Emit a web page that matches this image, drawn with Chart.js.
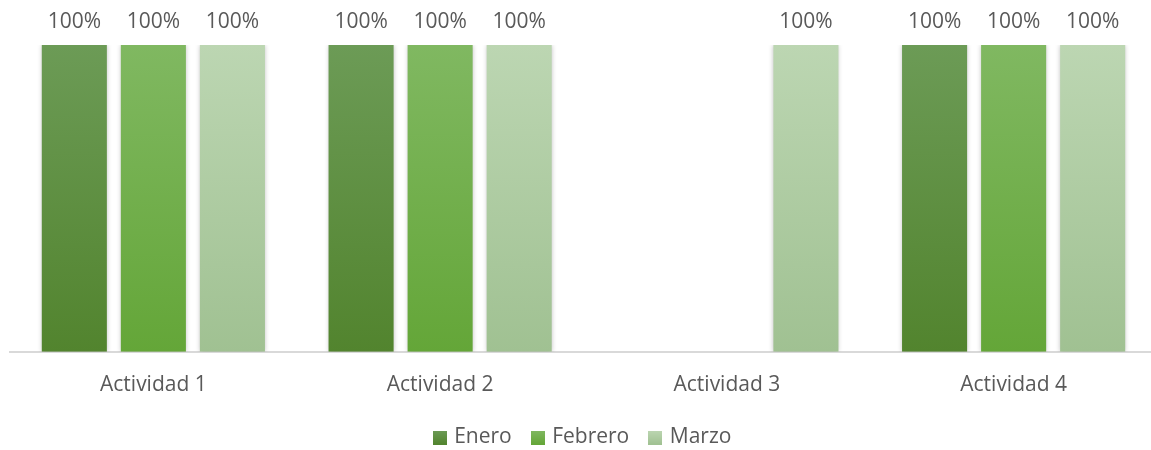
<!DOCTYPE html>
<html>
<head>
<meta charset="utf-8">
<script src="https://cdn.jsdelivr.net/npm/chart.js@4/dist/chart.umd.min.js"></script>
<style>
html,body{margin:0;padding:0;background:#fff;overflow:hidden;}
#wrap{width:1160px;height:450px;position:relative;}
</style>
</head>
<body>
<div id="wrap"><canvas id="c"></canvas></div>
<script>
const categories = ["Actividad 1", "Actividad 2", "Actividad 3", "Actividad 4"];
const seriesNames = ["Enero", "Febrero", "Marzo"];
const enero = [1, 1, null, 1];
const febrero = [1, 1, null, 1];
const marzo = [1, 1, 1, 1];

const gradStops = [
  ["rgb(108,155,86)", "rgb(82,132,46)"],
  ["rgb(128,184,97)", "rgb(100,166,56)"],
  ["rgb(188,214,178)", "rgb(160,193,146)"]
];

function gradFill(idx) {
  return function(ctx) {
    const chart = ctx.chart;
    const a = chart.chartArea;
    if (!a) return gradStops[idx][1];
    const g = chart.ctx.createLinearGradient(0, a.top, 0, a.bottom);
    g.addColorStop(0, gradStops[idx][0]);
    g.addColorStop(1, gradStops[idx][1]);
    return g;
  };
}

function legendBox(idx) {
  const c = document.createElement('canvas');
  c.width = 14; c.height = 14;
  const x = c.getContext('2d');
  const g = x.createLinearGradient(0, 0, 0, 14);
  g.addColorStop(0, gradStops[idx][0]);
  g.addColorStop(1, gradStops[idx][1]);
  x.fillStyle = g;
  x.fillRect(0, 0, 14, 14);
  return c;
}

const FONT = "'Open Sans', sans-serif";
const FSIZE = 21;
const TEXT = "#595959";

const shadowPlugin = {
  id: 'shadow',
  beforeDatasetDraw(chart) {
    const ctx = chart.ctx;
    ctx.save();
    ctx.shadowColor = 'rgba(0,0,0,0.28)';
    ctx.shadowBlur = 5;
    ctx.shadowOffsetX = 0;
    ctx.shadowOffsetY = 0;
  },
  afterDatasetDraw(chart) {
    chart.ctx.restore();
  }
};

const labelPlugin = {
  id: 'vlabels',
  afterDatasetsDraw(chart) {
    const ctx = chart.ctx;
    ctx.save();
    ctx.font = FSIZE + "px " + FONT;
    ctx.fillStyle = TEXT;
    ctx.textAlign = 'center';
    ctx.textBaseline = 'middle';
    chart.data.datasets.forEach((ds, di) => {
      const meta = chart.getDatasetMeta(di);
      meta.data.forEach((el, i) => {
        const v = ds.data[i];
        if (v === null || v === undefined) return;
        ctx.fillText(Math.round(v * 100) + "%", el.x, el.y - 23);
      });
    });
    ctx.restore();
  }
};

const dataArrays = [enero, febrero, marzo];

new Chart(document.getElementById('c'), {
  type: 'bar',
  data: {
    labels: categories,
    datasets: seriesNames.map((n, i) => ({
      label: n,
      data: dataArrays[i],
      backgroundColor: gradFill(i),
      borderWidth: 0,
      pointStyle: legendBox(i),
      barPercentage: 0.823,
      categoryPercentage: 0.827
    }))
  },
  options: {
    responsive: true,
    maintainAspectRatio: false,
    animation: false,
    layout: { padding: { left: 10, right: 3, top: 45, bottom: -8 } },
    scales: {
      x: {
        grid: { display: false, drawTicks: false },
        border: { display: true, color: '#d9d9d9', width: 2 },
        ticks: { color: TEXT, font: { family: FONT, size: FSIZE }, padding: 21 },
        afterFit(scale) { scale.height = Math.max(scale.height - 14, 48); }
      },
      y: {
        display: false,
        min: 0, max: 1
      }
    },
    plugins: {
      legend: {
        position: 'bottom',
        labels: {
          usePointStyle: true,
          color: TEXT,
          font: { family: FONT, size: FSIZE },
          padding: 22,
          boxWidth: 8, boxHeight: 14
        }
      },
      tooltip: { enabled: false }
    }
  },
  plugins: [shadowPlugin, labelPlugin]
});
</script>
</body>
</html>
